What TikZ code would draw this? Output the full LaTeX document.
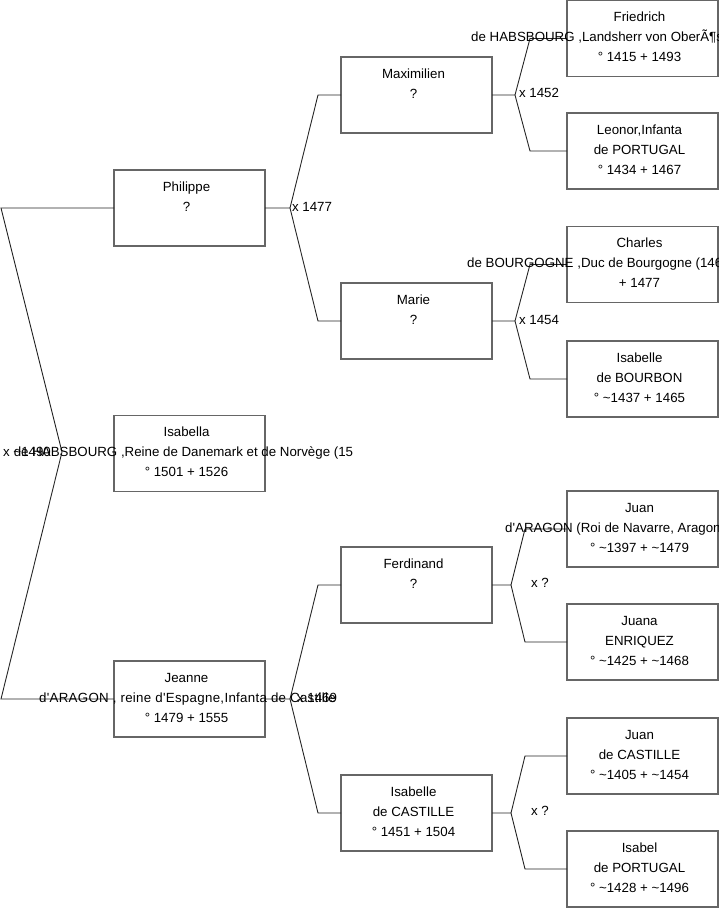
\documentclass[tikz,border=0pt]{standalone}
\usepackage{fontspec}
\newfontfamily\arialfont{Liberation Sans}
\usetikzlibrary{calc}
\begin{document}
\begin{tikzpicture}[x=1pt,y=-1pt,
  box/.style={draw=black!60, line width=1.1pt, minimum width=151pt, minimum height=76pt, inner sep=0pt, outer sep=0pt},
  ln/.style={font=\arialfont\fontsize{13.3}{16}\selectfont, inner sep=0pt, anchor=base},
  lnw/.style={ln, anchor=base west},
  conn/.style={draw=black!85, line width=0.9pt},
  mlab/.style={font=\arialfont\fontsize{13.3}{16}\selectfont, inner sep=0pt, anchor=center}]
\useasboundingbox (0,0) rectangle (719,908);
\clip (0,0) rectangle (719,908);

% boxes
\node[box] (phil) at (189.5,208) {};
\node[box] (isa)  at (189.5,453.5) {};
\node[box] (jea)  at (189.5,699) {};
\node[box] (max)  at (416.5,95) {};
\node[box] (mar)  at (416.5,321) {};
\node[box] (fer)  at (416.5,585) {};
\node[box] (isc)  at (416.5,813) {};
\node[box] (fri)  at (642.5,38.5) {};
\node[box] (leo)  at (642.5,151) {};
\node[box] (cha)  at (642.5,264.5) {};
\node[box] (isb)  at (642.5,379) {};
\node[box] (jua)  at (642.5,529) {};
\node[box] (jna)  at (642.5,642) {};
\node[box] (juc)  at (642.5,756) {};
\node[box] (isp)  at (642.5,869) {};

% connectors
\coordinate (ra) at (1,208);
\coordinate (rb) at (1,699);
\coordinate (rc) at (62,452);
\draw[conn] (phil.west) -- (ra) -- (rc) -- (rb) -- (jea.west);

\coordinate (f1) at (290,208);
\draw[conn] (phil.east) -- (f1) -- ($(max.west)+(-23,0)$) -- (max.west);
\draw[conn] (f1) -- ($(mar.west)+(-23,0)$) -- (mar.west);

\coordinate (f2) at (290,699);
\draw[conn] (jea.east) -- (f2) -- ($(fer.west)+(-23,0)$) -- (fer.west);
\draw[conn] (f2) -- ($(isc.west)+(-23,0)$) -- (isc.west);

\coordinate (f3) at (515,95);
\draw[conn] (max.east) -- (f3) -- ($(fri.west)+(-37,0)$) -- (fri.west);
\draw[conn] (f3) -- ($(leo.west)+(-37,0)$) -- (leo.west);

\coordinate (f4) at (515,321);
\draw[conn] (mar.east) -- (f4) -- ($(cha.west)+(-37,0)$) -- (cha.west);
\draw[conn] (f4) -- ($(isb.west)+(-37,0)$) -- (isb.west);

\coordinate (f5) at (511,585);
\draw[conn] (fer.east) -- (f5) -- ($(jua.west)+(-42,0)$) -- (jua.west);
\draw[conn] (f5) -- ($(jna.west)+(-42,0)$) -- (jna.west);

\coordinate (f6) at (511,813);
\draw[conn] (isc.east) -- (f6) -- ($(juc.west)+(-42,0)$) -- (juc.west);
\draw[conn] (f6) -- ($(isp.west)+(-42,0)$) -- (isp.west);

% marriage labels
\node[mlab] (l0) at (27,452) {x \textasciitilde1490};
\node[mlab] (l1) at (312,207) {x 1477};
\node[mlab] (l2) at (317,698) {x 1469};
\node[mlab] (l3) at (539,93) {x 1452};
\node[mlab] (l4) at (539,320) {x 1454};
\node[mlab] (l5) at (540,583) {x ?};
\node[mlab] (l6) at (540,811) {x ?};

% texts
\node[ln] (t1a) at ($(phil.north)+(-3,21)$) {Philippe};
\node[ln] (t1b) at ($(phil.north)+(-3,41)$) {?};

\node[ln] (t2a) at ($(isa.north)+(-3,21)$) {Isabella};
\node[ln] (t2b) at ($(isa.north)+(-6,41)$) {de HABSBOURG ,Reine de Danemark et de Norvège (15};
\node[ln] (t2c) at ($(isa.north)+(-3,61)$) {° 1501 + 1526};

\node[ln] (t3a) at ($(jea.north)+(-3,21)$) {Jeanne};
\node[ln] (t3b) at ($(jea.north)+(-2,41)$) {\addfontfeature{LetterSpace=2.3}d'ARAGON , reine d'Espagne,Infanta de Castille};
\node[ln] (t3c) at ($(jea.north)+(-3,61)$) {° 1479 + 1555};

\node[ln] (t4a) at ($(max.north)+(-3,21)$) {Maximilien};
\node[ln] (t4b) at ($(max.north)+(-3,41)$) {?};

\node[ln] (t5a) at ($(mar.north)+(-3,21)$) {Marie};
\node[ln] (t5b) at ($(mar.north)+(-3,41)$) {?};

\node[ln] (t6a) at ($(fer.north)+(-3,21)$) {Ferdinand};
\node[ln] (t6b) at ($(fer.north)+(-3,41)$) {?};

\node[ln] (t7a) at ($(isc.north)+(-3,21)$) {Isabelle};
\node[ln] (t7b) at ($(isc.north)+(-3,41)$) {de CASTILLE};
\node[ln] (t7c) at ($(isc.north)+(-3,61)$) {° 1451 + 1504};

\node[ln] (t8a) at ($(fri.north)+(-3,21)$) {Friedrich};
\node[lnw] (t8b) at ($(fri.north west)+(-96,41)$) {de HABSBOURG ,Landsherr von OberÃ¶s};
\node[ln] (t8c) at ($(fri.north)+(-3,61)$) {° 1415 + 1493};

\node[ln] (t9a) at ($(leo.north)+(-3,21)$) {Leonor,Infanta};
\node[ln] (t9b) at ($(leo.north)+(-3,41)$) {de PORTUGAL};
\node[ln] (t9c) at ($(leo.north)+(-3,61)$) {° 1434 + 1467};

\node[ln] (t10a) at ($(cha.north)+(-3,21)$) {Charles};
\node[lnw] (t10b) at ($(cha.north west)+(-100,41)$) {de BOURGOGNE ,Duc de Bourgogne (146};
\node[ln] (t10c) at ($(cha.north)+(-3,61)$) {+ 1477};

\node[ln] (t11a) at ($(isb.north)+(-3,21)$) {Isabelle};
\node[ln] (t11b) at ($(isb.north)+(-3,41)$) {de BOURBON};
\node[ln] (t11c) at ($(isb.north)+(-3,61)$) {° \textasciitilde1437 + 1465};

\node[ln] (t12a) at ($(jua.north)+(-3,21)$) {Juan};
\node[lnw] (t12b) at ($(jua.north west)+(-62,41)$) {d'ARAGON (Roi de Navarre, Aragon};
\node[ln] (t12c) at ($(jua.north)+(-3,61)$) {° \textasciitilde1397 + \textasciitilde1479};

\node[ln] (t13a) at ($(jna.north)+(-3,21)$) {Juana};
\node[ln] (t13b) at ($(jna.north)+(-3,41)$) {ENRIQUEZ};
\node[ln] (t13c) at ($(jna.north)+(-3,61)$) {° \textasciitilde1425 + \textasciitilde1468};

\node[ln] (t14a) at ($(juc.north)+(-3,21)$) {Juan};
\node[ln] (t14b) at ($(juc.north)+(-3,41)$) {de CASTILLE};
\node[ln] (t14c) at ($(juc.north)+(-3,61)$) {° \textasciitilde1405 + \textasciitilde1454};

\node[ln] (t15a) at ($(isp.north)+(-3,21)$) {Isabel};
\node[ln] (t15b) at ($(isp.north)+(-3,41)$) {de PORTUGAL};
\node[ln] (t15c) at ($(isp.north)+(-3,61)$) {° \textasciitilde1428 + \textasciitilde1496};
\end{tikzpicture}
\end{document}
